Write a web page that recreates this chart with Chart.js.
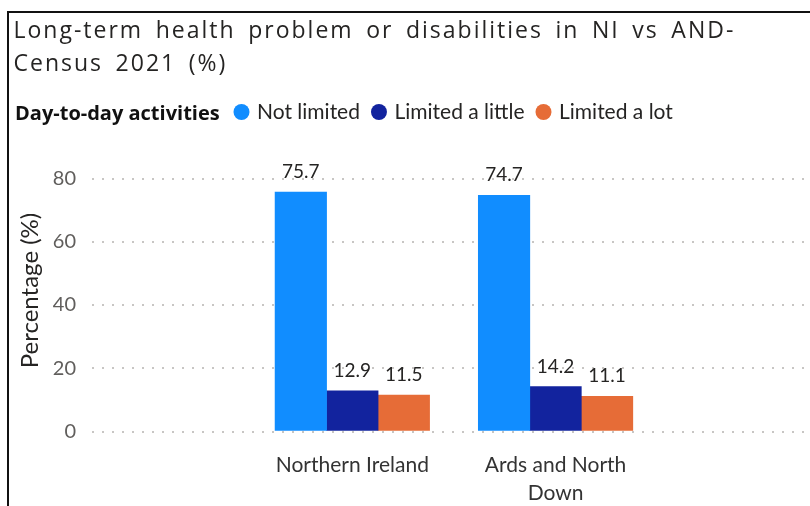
<!DOCTYPE html>
<html>
<head>
<meta charset="utf-8">
<script src="https://cdn.jsdelivr.net/npm/chart.js@4"></script>
<style>
  html, body { margin: 0; padding: 0; background: #fff; }
  body { width: 810px; height: 506px; position: relative; overflow: hidden; }
  #frame { position: absolute; left: 7px; top: 11px; width: 820px; height: 520px;
           border-left: 2px solid #111; border-top: 2px solid #111; box-sizing: border-box; }
  #title { position: absolute; left: 13.5px; top: 13px; font-family: "Open Sans", sans-serif;
           font-size: 23px; line-height: 33px; color: #252423; letter-spacing: 2px; word-spacing: 4.6px;
           white-space: nowrap; }
  #legendTitle { position: absolute; left: 15px; top: 102.5px; font-family: "Open Sans", sans-serif;
           font-weight: bold; font-size: 20px; line-height: 20px; color: #111; white-space: nowrap; }
  #wrap { position: absolute; left: 0; top: 0; width: 810px; height: 506px; }
</style>
</head>
<body>
<div id="frame"></div>
<div id="wrap"><canvas id="c"></canvas></div>
<div id="title">Long-term health problem or disabilities in NI vs AND-<br>Census 2021 (%)</div>
<div id="legendTitle">Day-to-day activities</div>
<script>
// ---- data ----
const categories = ['Northern Ireland', 'Ards and North Down'];
const xTickLabels = [['Northern Ireland'], ['Ards and North', 'Down']];
const seriesNames = ['Not limited', 'Limited a little', 'Limited a lot'];
const notLimited = [75.7, 74.7];
const limitedLittle = [12.9, 14.2];
const limitedLot = [11.5, 11.1];
const yTicks = [0, 20, 40, 60, 80];
const seriesColors = ['#118DFF', '#12239E', '#E66C37'];

const toPoints = arr => arr.map((v, i) => ({ x: i, y: v }));

const dataLabels = {
  id: 'dataLabels',
  afterDatasetsDraw(chart) {
    const ctx = chart.ctx;
    ctx.save();
    ctx.font = '19px Lato, sans-serif';
    ctx.fillStyle = '#252423';
    ctx.textAlign = 'center';
    ctx.textBaseline = 'alphabetic';
    chart.data.datasets.forEach((ds, di) => {
      const meta = chart.getDatasetMeta(di);
      meta.data.forEach((el, i) => {
        ctx.fillText(ds.data[i].y.toFixed(1), el.x, el.y - 14);
      });
    });
    ctx.restore();
  }
};

const legendPlacement = {
  id: 'legendPlacement',
  beforeLayout(chart) {
    const lg = chart.legend;
    if (lg && !lg.__patched) {
      const fit = lg.fit;
      lg.fit = function () { fit.call(this); this.height += 17; };
      lg.__patched = true;
    }
  },
  afterLayout(chart) {
    if (chart.legend) chart.legend.left = 222.5;
  }
};

new Chart(document.getElementById('c'), {
  type: 'bar',
  data: {
    datasets: [
      { label: seriesNames[0], data: toPoints(notLimited), backgroundColor: seriesColors[0] },
      { label: seriesNames[1], data: toPoints(limitedLittle), backgroundColor: seriesColors[1] },
      { label: seriesNames[2], data: toPoints(limitedLot), backgroundColor: seriesColors[2] }
    ]
  },
  options: {
    responsive: true,
    maintainAspectRatio: false,
    animation: false,
    devicePixelRatio: 1,
    layout: { padding: { top: 87.5, left: 8, right: 0, bottom: 0 } },
    datasets: { bar: { barThickness: 51.5, borderWidth: 0 } },
    plugins: {
      title: { display: false },
      tooltip: { enabled: false },
      legend: {
        display: true,
        position: 'top',
        align: 'start',
        labels: {
          usePointStyle: true,
          pointStyle: 'circle',
          boxWidth: 10,
          boxHeight: 11.3,
          padding: 14,
          color: '#252423',
          font: { family: 'Lato, sans-serif', size: 21 }
        }
      }
    },
    scales: {
      x: {
        type: 'linear',
        offset: false,
        min: -1.281,
        max: 2.252,
        grid: { display: false, drawTicks: false },
        border: { display: false },
        afterBuildTicks(scale) { scale.ticks = categories.map((c, i) => ({ value: i })); },
        afterFit(scale) { scale.height = 74.5; },
        ticks: {
          autoSkip: false,
          maxRotation: 0,
          padding: 19.3,
          color: '#333333',
          font: { family: 'Lato, sans-serif', size: 21, lineHeight: 1.35 },
          callback: (v) => xTickLabels[v]
        }
      },
      y: {
        type: 'linear',
        min: 0,
        max: 89.2,
        afterBuildTicks(scale) { scale.ticks = yTicks.map(v => ({ value: v })); },
        afterFit(scale) { scale.width = 84; },
        border: { display: false, dash: [2, 8] },
        grid: { color: '#C8C6C4', lineWidth: 2, drawTicks: false },
        ticks: {
          padding: 16,
          color: '#605E5C',
          font: { family: 'Lato, sans-serif', size: 20 }
        },
        title: {
          display: true,
          text: 'Percentage (%)',
          color: '#252423',
          font: { family: 'Lato, sans-serif', size: 24 },
          padding: { top: 7.6, bottom: 0 }
        }
      }
    }
  },
  plugins: [dataLabels, legendPlacement]
});
</script>
</body>
</html>
